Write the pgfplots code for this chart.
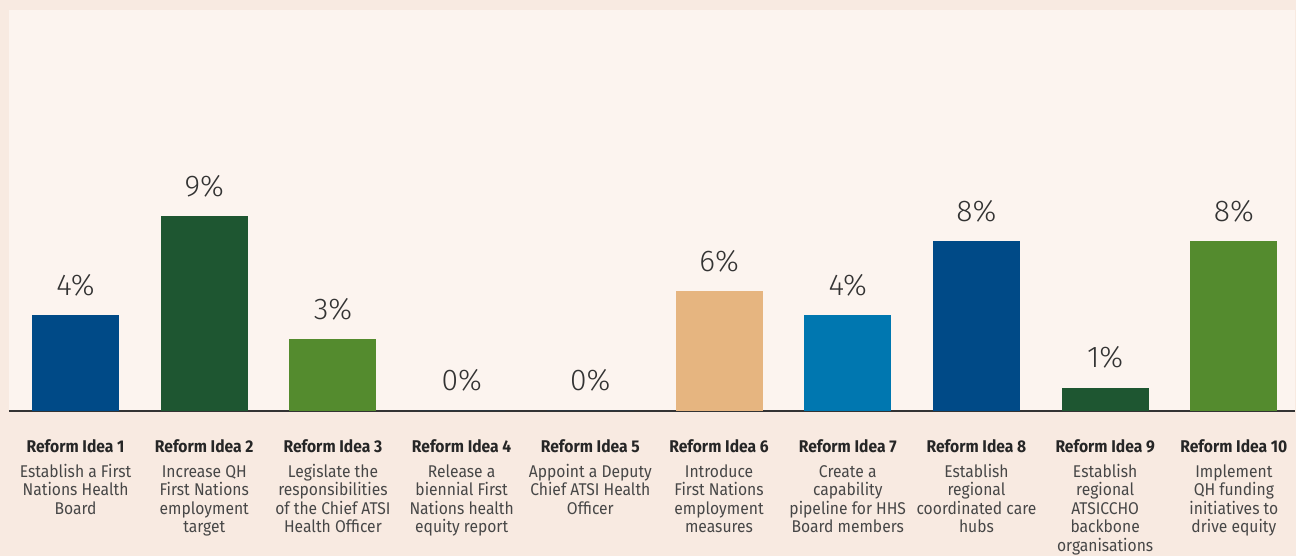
\documentclass[border=0pt]{standalone}
\usepackage{pgfplots}
\pgfplotsset{compat=1.18}
\usepackage{fontspec}
\setmainfont{Fira Sans}[FakeStretch=0.92]
\newfontfamily\lightfont{Fira Sans}[UprightFont=* Light]
\definecolor{outerbg}{HTML}{F8EAE1}
\definecolor{panelbg}{HTML}{FCF4EF}
\definecolor{dblue}{HTML}{004A87}
\definecolor{dgreen}{HTML}{1E5631}
\definecolor{mgreen}{HTML}{548B2E}
\definecolor{tan}{HTML}{E6B580}
\definecolor{mblue}{HTML}{0077B0}
\definecolor{axisgray}{HTML}{333333}
\definecolor{valtext}{HTML}{333333}
\definecolor{boldtext}{HTML}{262626}
\definecolor{regtext}{HTML}{474747}
\newcommand{\cat}[2]{\textbf{\color{boldtext}#1}\\[3.25pt]#2}
\begin{document}
\begin{tikzpicture}
\fill[outerbg] (0,0) rectangle (648pt,278pt);
\begin{axis}[
  at={(4.5pt,72.5pt)}, anchor=south west,
  scale only axis, width=643pt, height=200.5pt,
  axis background/.style={fill=panelbg},
  xmin=-0.517, xmax=9.475, ymin=0, ymax=16.71,
  axis x line*=bottom, axis y line=none,
  x axis line style={line width=1pt, color=axisgray},
  ytick=\empty,
  xtick={0,1,2,3,4,5,6,7,8,9},
  major tick length=0pt,
  xticklabels={
    {\cat{Reform Idea 1}{Establish a First\\Nations Health\\Board}},
    {\cat{Reform Idea 2}{Increase QH\\First Nations\\employment\\target}},
    {\cat{Reform Idea 3}{Legislate the\\responsibilities\\of the Chief ATSI\\Health Officer}},
    {\cat{Reform Idea 4}{Release a\\biennial First\\Nations health\\equity report}},
    {\cat{Reform Idea 5}{Appoint a Deputy\\Chief ATSI Health\\Officer}},
    {\cat{Reform Idea 6}{Introduce\\First Nations\\employment\\measures}},
    {\cat{Reform Idea 7}{Create a\\capability\\pipeline for HHS\\Board members}},
    {\cat{Reform Idea 8}{Establish\\regional\\coordinated care\\hubs}},
    {\cat{Reform Idea 9}{Establish\\regional\\ATSICCHO\\backbone\\organisations}},
    {\cat{Reform Idea 10}{Implement\\QH funding\\initiatives to\\drive equity}}
  },
  xticklabel style={align=center, anchor=north, inner sep=0pt, yshift=-14pt,
    font=\fontsize{8.5pt}{9.25pt}\selectfont, text=regtext},
  ybar, bar width=43.5pt,
  every axis plot/.append style={bar shift=0pt},
  nodes near coords,
  point meta=explicit symbolic,
  every node near coord/.append style={anchor=base, yshift=10pt, inner sep=0pt,
    font=\lightfont\fontsize{15pt}{18pt}\selectfont, text=valtext},
  clip=false,
]
\addplot[draw=none, fill=dblue] coordinates {(0,4.0) [4\%]};
\addplot[draw=none, fill=dgreen] coordinates {(1,8.12) [9\%]};
\addplot[draw=none, fill=mgreen] coordinates {(2,3.0) [3\%]};
\addplot[draw=none, fill=dblue] coordinates {(3,0) [0\%]};
\addplot[draw=none, fill=dblue] coordinates {(4,0) [0\%]};
\addplot[draw=none, fill=tan] coordinates {(5,5.0) [6\%]};
\addplot[draw=none, fill=mblue] coordinates {(6,4.0) [4\%]};
\addplot[draw=none, fill=dblue] coordinates {(7,7.08) [8\%]};
\addplot[draw=none, fill=dgreen] coordinates {(8,0.96) [1\%]};
\addplot[draw=none, fill=mgreen] coordinates {(9,7.08) [8\%]};
\end{axis}
\end{tikzpicture}
\end{document}
